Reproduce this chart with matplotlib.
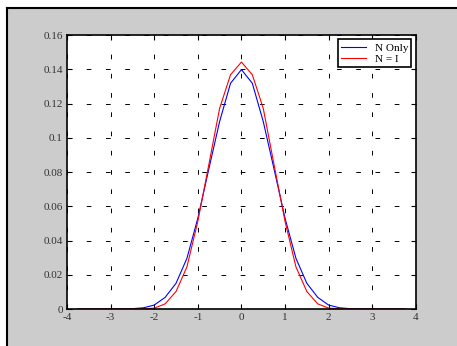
import numpy as np
import matplotlib.pyplot as plt
from matplotlib.lines import Line2D

plt.rcParams['font.family'] = ['Liberation Serif', 'DejaVu Serif']

x = np.arange(-15, 16) * 0.25

# values, x = 0 .. 3.75 (curves are symmetric)
n_only_half = [0.1398, 0.1318, 0.1095, 0.0815, 0.0530, 0.0296, 0.0150,
               0.0068, 0.0023, 0.0007, 0.0002, 0.00005, 0.0, 0.0, 0.0, 0.0]
n_eq_i_half = [0.1442, 0.1368, 0.1172, 0.0840, 0.0512, 0.0246, 0.0102,
               0.0030, 0.0005, 0.0001, 0.0, 0.0, 0.0, 0.0, 0.0, 0.0]

n_only = np.array(n_only_half[:0:-1] + n_only_half)
n_eq_i = np.array(n_eq_i_half[:0:-1] + n_eq_i_half)

fig = plt.figure(figsize=(4.57, 3.46), dpi=100, facecolor='#cccccc')
ax = fig.add_axes([0.1466, 0.1069, 0.7634, 0.7919])
ax.set_facecolor('white')

ax.plot(x, n_only, color='#0000ff', lw=0.8, label='N Only')
ax.plot(x, n_eq_i, color='#ff0000', lw=0.8, label='N = I')

ax.set_xlim(-4, 4)
ax.set_ylim(0, 0.16)
ax.set_xticks(np.arange(-4, 5, 1))
ax.set_yticks(np.arange(0, 0.161, 0.02))
ax.set_xticklabels(['-4', '-3', '-2', '-1', '0', '1', '2', '3', '4'])
ax.set_yticklabels(['0', '0.02', '0.04', '0.06', '0.08', '0.1', '0.12', '0.14', '0.16'])

ax.grid(True, color='black', lw=0.7, linestyle=(0, (4.8, 15.0)))
ax.tick_params(direction='in', length=3.5, width=0.8, top=True, right=True,
               labelsize=8, labelcolor='#333333', pad=3)
for s in ax.spines.values():
    s.set_linewidth(1.2)

leg = ax.legend(loc='upper right', fontsize=8, fancybox=False, framealpha=1,
                edgecolor='black', handlelength=2.2, borderpad=0.3,
                labelspacing=0.15, borderaxespad=0.4)
leg.get_frame().set_linewidth(1.2)

# black frame at top-left of the window
fig.add_artist(Line2D([7 / 457, 1], [1 - 8 / 346, 1 - 8 / 346], color='black', lw=1.5,
                      transform=fig.transFigure))
fig.add_artist(Line2D([7 / 457, 7 / 457], [0, 1 - 8 / 346], color='black', lw=1.5,
                      transform=fig.transFigure))
fig.patches.append(plt.Rectangle((0, 1 - 7 / 346), 1, 7 / 346, color='white',
                                 transform=fig.transFigure, figure=fig, zorder=-1))
fig.patches.append(plt.Rectangle((0, 0), 6 / 457, 1, color='white',
                                 transform=fig.transFigure, figure=fig, zorder=-1))

fig.savefig('out.png', dpi=100, facecolor=fig.get_facecolor())
